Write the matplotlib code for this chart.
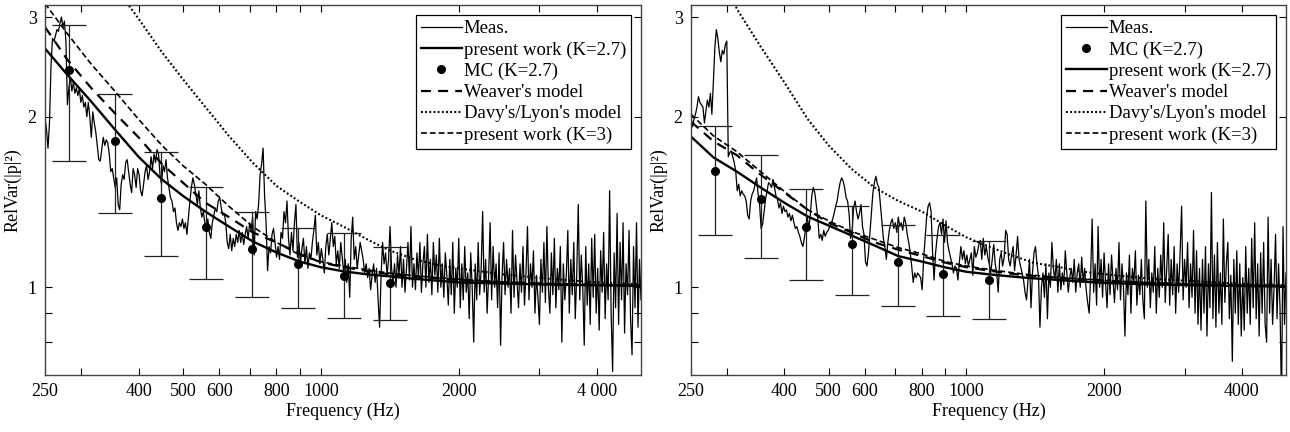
import numpy as np
import matplotlib
matplotlib.use('Agg')
import matplotlib.pyplot as plt
from matplotlib.ticker import FixedLocator, NullLocator

plt.rcParams['font.family'] = ['Liberation Serif', 'DejaVu Serif']

meas_left = [
    2.0, 1.9, 1.76, 1.95, 2.45, 2.75, 2.72, 2.78, 2.85, 2.83,
    2.92, 3.0, 2.88, 2.95, 2.72, 2.1, 2.25, 2.35, 2.22, 2.3,
    2.2, 2.25, 2.18, 2.24, 2.12, 2.18, 2.08, 2.12, 2.0, 2.12,
    2.0, 1.84, 2.04, 1.95, 1.88, 1.78, 1.68, 1.67, 1.75, 1.84,
    1.78, 1.82, 1.8, 1.72, 1.6, 1.62, 1.56, 1.5, 1.56, 1.4,
    1.37, 1.52, 1.58, 1.55, 1.66, 1.68, 1.6, 1.52, 1.47, 1.62,
    1.58, 1.5, 1.62, 1.58, 1.48, 1.45, 1.52, 1.6, 1.64, 1.55,
    1.6, 1.7, 1.62, 1.72, 1.66, 1.75, 1.72, 1.58, 1.52, 1.64,
    1.6, 1.68, 1.56, 1.5, 1.44, 1.42, 1.36, 1.38, 1.3, 1.26,
    1.3, 1.28, 1.32, 1.27, 1.3, 1.24, 1.33, 1.42, 1.5, 1.56,
    1.52, 1.46, 1.4, 1.48, 1.38, 1.33, 1.36, 1.3, 1.26, 1.32,
    1.25, 1.22, 1.3, 1.34, 1.38, 1.36, 1.42, 1.44, 1.38, 1.34,
    1.35, 1.3, 1.2, 1.17, 1.24, 1.16, 1.22, 1.18, 1.24, 1.2,
    1.26, 1.2, 1.25, 1.19, 1.24, 1.28, 1.22, 1.3, 1.26, 1.33,
    1.14, 1.36, 1.32, 1.4, 1.58, 1.65, 1.76, 1.45, 1.3, 1.07,
    1.18, 1.15, 1.24, 1.27, 1.2, 1.13, 1.18, 1.12, 1.25, 1.22,
    1.36, 1.3, 1.42, 1.22, 1.14, 1.25, 1.16, 1.3, 1.4, 1.13,
    1.2, 1.1, 1.17, 1.22, 1.1, 1.18, 1.08, 1.15, 1.12, 1.2,
    1.26, 1.34, 1.14, 1.2, 1.1, 1.17, 1.12, 1.06, 1.18, 1.24,
    1.14, 1.22, 1.3, 1.18, 1.23, 1.1, 1.16, 1.08, 1.2, 1.13,
    1.06, 1.12, 1.02, 1.1, 0.96, 1.22, 1.33, 1.12, 1.18, 1.08,
    1.14, 1.2, 1.16, 1.12, 1.06, 1.1, 1.04, 1.08, 0.99, 1.05,
    1.1, 1.02, 1.08, 0.95, 0.85, 1.05, 1.2, 1.1, 1.15, 1.05,
    1.12, 1.28, 1.08, 1.02, 1.1, 1.0, 1.14, 1.05, 1.18, 1.0,
    1.12, 0.98, 1.08, 1.2, 1.03, 1.28, 1.0, 1.1, 0.99, 1.15,
    1.04, 1.2, 0.98, 1.1, 1.18, 1.0, 1.24, 1.02, 1.12, 0.97,
    1.2, 1.05, 1.14, 0.98, 1.22, 1.0, 1.1, 0.96, 1.15,
    1.05, 0.93, 1.12, 0.97, 1.2, 0.9, 1.08, 1.0, 1.22, 0.92,
    1.1, 0.95, 1.18, 0.98, 1.06, 0.88, 1.15, 1.0, 0.8, 1.1,
    0.95, 1.2, 0.97, 1.08, 1.36, 0.98, 1.12, 0.9, 1.05, 1.3,
    0.95, 1.18, 1.0, 1.1, 0.92, 1.15, 0.79, 1.05, 1.2, 0.97,
    1.12, 1.0, 1.08, 0.9, 1.26, 0.96, 1.14, 1.02, 0.92, 1.1,
    0.98, 1.18, 0.93, 1.06, 1.28, 0.95, 1.1, 1.0, 1.16, 0.9,
    1.05, 0.96, 0.86, 1.12, 0.98, 1.2, 0.94, 1.28, 1.0, 0.9,
    1.15, 0.97, 1.22, 0.92, 1.08, 0.99, 1.18, 0.8, 1.1, 0.95,
    1.05, 1.26, 0.9, 1.12, 0.97, 1.2, 0.88, 1.06, 1.4, 0.95,
    1.14, 1.0, 0.79, 1.18, 0.93, 1.1, 0.86, 1.22, 0.96, 1.24,
    0.9, 1.08, 0.84, 1.16, 0.98, 1.25, 0.88, 1.1, 0.95, 1.48,
    0.9, 0.71, 1.15, 0.92, 1.35, 0.86, 1.2, 0.95, 1.3, 0.83,
    1.1, 0.97, 1.26, 0.88, 0.76, 1.18, 0.92, 1.3, 0.85, 1.12,
    0.95,
]

meas_right = [
    2.0, 1.92, 1.98, 2.02, 2.08, 2.17, 2.12, 2.1, 2.08, 1.95,
    2.05, 2.14, 2.08, 2.2, 2.02, 2.3, 2.65, 2.85, 2.75, 2.6,
    2.5, 2.62, 2.58, 2.68, 2.72, 1.7, 1.73, 1.74, 1.7, 1.66,
    1.6, 1.48, 1.52, 1.45, 1.48, 1.46, 1.45, 1.42, 1.34, 1.32,
    1.42, 1.46, 1.48, 1.52, 1.56, 1.46, 1.4, 1.27, 1.29, 1.36,
    1.43, 1.48, 1.53, 1.52, 1.5, 1.55, 1.5, 1.45, 1.43, 1.38,
    1.41, 1.35, 1.39, 1.36, 1.37, 1.33, 1.35, 1.31, 1.34, 1.3,
    1.27, 1.28, 1.25, 1.23, 1.2, 1.18, 1.22, 1.28, 1.33, 1.27,
    1.34, 1.45, 1.5, 1.47, 1.4, 1.33, 1.22, 1.24, 1.21, 1.26,
    1.23, 1.25, 1.26, 1.28, 1.29, 1.32, 1.35, 1.39, 1.42, 1.48,
    1.53, 1.56, 1.54, 1.5, 1.44, 1.42, 1.35, 1.22, 1.25, 1.38,
    1.42, 1.36, 1.32, 1.35, 1.4, 1.28, 1.24, 1.11, 1.09, 1.15,
    1.25, 1.36, 1.47, 1.53, 1.57, 1.52, 1.5, 1.4, 1.3, 1.22,
    1.18, 1.12, 1.2, 1.26, 1.3, 1.32, 1.27, 1.3, 1.25, 1.33,
    1.28, 1.3, 1.26, 1.33, 1.3, 1.24, 1.2, 1.15, 1.09, 1.02,
    1.06, 1.04, 1.06, 1.05, 1.04, 0.99, 1.12, 1.22, 1.33, 1.39,
    1.41, 1.36, 1.15, 1.03, 1.15, 1.22, 1.28, 1.3, 1.24, 1.32,
    1.2, 1.31, 1.2, 1.16, 1.13, 1.1, 1.06, 1.09, 1.08, 1.03,
    1.11, 1.18, 1.12, 1.16, 1.1, 1.14, 1.09, 1.12, 1.15, 1.05,
    1.18, 1.13, 1.15, 1.19, 1.21, 1.12, 1.22, 1.14, 1.18, 1.13,
    1.1, 1.06, 1.12, 1.19, 1.1, 1.06, 0.98, 1.12, 1.15, 1.09,
    1.13, 1.26, 1.24, 1.12, 1.09, 1.14, 1.18, 1.07, 1.14, 1.23,
    1.12, 1.09, 1.06, 1.03, 0.98, 0.95, 1.03, 1.12, 0.92, 1.06,
    1.15, 1.18, 1.1, 1.05, 0.85, 1.0, 1.06, 0.96, 1.1, 0.88,
    1.06, 1.0, 1.2, 1.08, 1.03, 1.12, 0.98, 1.1, 0.99, 1.06,
    1.01, 1.16, 1.06, 0.98, 1.04, 1.08, 1.02, 1.12, 0.98, 1.06,
    1.1, 1.0, 1.13, 1.02, 1.08, 0.99, 0.94, 0.9, 1.05,
    1.32, 0.98, 1.1, 0.93, 1.28, 1.0, 1.12, 0.96, 1.15, 1.02,
    0.92, 1.1, 0.97, 1.14, 1.03, 0.94, 1.08, 0.99, 1.2, 0.95,
    1.1, 1.0, 0.82, 1.06, 0.97, 1.14, 0.9, 1.08, 1.02, 1.16,
    0.93, 1.05, 0.97, 1.12, 0.95, 0.88, 1.42, 1.0, 1.12, 0.92,
    1.06, 0.98, 1.18, 0.9, 1.08, 0.96, 1.14, 1.0, 1.3, 0.94,
    1.08, 1.24, 0.93, 1.12, 0.97, 1.18, 0.9, 1.1, 0.98, 1.15,
    1.39, 0.95, 1.12, 1.0, 1.2, 0.92, 1.1, 0.96, 1.26, 0.9,
    1.16, 0.86, 1.08, 0.84, 1.12, 0.9, 1.18, 0.82, 1.1, 0.92,
    1.47, 0.88, 1.14, 0.85, 1.2, 0.9, 1.06, 0.86, 1.32, 0.94,
    1.1, 1.2, 0.88, 1.05, 0.74, 1.12, 0.9, 1.16, 0.86, 1.1,
    0.82, 1.04, 0.84, 1.18, 0.9, 1.08, 0.86, 1.22, 0.92, 1.3,
    0.88, 1.1, 0.82, 1.15, 0.9, 1.2, 0.86, 0.8, 1.33, 0.9,
    1.12, 0.86, 1.0, 1.24, 0.88, 1.1, 0.92, 0.62, 1.28, 0.86,
    1.06,
]

# model curves
f_model = [250, 280, 315, 355, 400, 450, 500, 560, 630, 710, 800, 900, 1000,
           1120, 1250, 1400, 1600, 1800, 2000, 2500, 3150, 4000, 5000]

pw27_left = [2.64, 2.37, 2.13, 1.90, 1.70, 1.55, 1.45, 1.36, 1.28, 1.205, 1.152,
             1.11, 1.085, 1.067, 1.055, 1.046, 1.035, 1.027, 1.02, 1.015, 1.011, 1.008, 1.005]
weaver_left = [2.88, 2.52, 2.25, 2.03, 1.84, 1.65, 1.53, 1.41, 1.33, 1.25, 1.2,
               1.145, 1.107, 1.085, 1.07, 1.055, 1.045, 1.037, 1.03, 1.02, 1.014, 1.01, 1.007]
davy_left = [5.5, 4.6, 3.9, 3.4, 2.98, 2.6, 2.33, 2.08, 1.85, 1.66, 1.51,
             1.415, 1.34, 1.28, 1.22, 1.165, 1.12, 1.095, 1.08, 1.054, 1.035, 1.02, 1.012]
pw3_left = [3.17, 2.8, 2.48, 2.22, 1.98, 1.78, 1.64, 1.52, 1.39, 1.28, 1.2,
            1.14, 1.11, 1.09, 1.075, 1.06, 1.048, 1.04, 1.033, 1.022, 1.015, 1.01, 1.007]

pw27_right = [1.845, 1.695, 1.60, 1.50, 1.41, 1.333, 1.285, 1.235, 1.185, 1.135, 1.11,
              1.084, 1.065, 1.054, 1.045, 1.037, 1.03, 1.023, 1.018, 1.012, 1.008, 1.005, 1.003]
weaver_right = [1.96, 1.81, 1.71, 1.58, 1.47, 1.37, 1.30, 1.25, 1.20, 1.165, 1.135,
                1.105, 1.085, 1.07, 1.057, 1.047, 1.038, 1.032, 1.027, 1.018, 1.012, 1.008, 1.005]
davy_right = [5.0, 3.9, 3.1, 2.66, 2.3, 1.98, 1.78, 1.62, 1.5, 1.42, 1.36,
              1.285, 1.225, 1.18, 1.14, 1.105, 1.085, 1.065, 1.055, 1.036, 1.025, 1.014, 1.008]
pw3_right = [2.02, 1.85, 1.735, 1.60, 1.476, 1.37, 1.31, 1.255, 1.215, 1.175, 1.145,
             1.11, 1.09, 1.075, 1.062, 1.05, 1.04, 1.034, 1.028, 1.019, 1.013, 1.009, 1.006]

# MC points with error bars
f_mc_left = [282, 355, 447, 562, 708, 891, 1122, 1413]
mc_left = [2.42, 1.81, 1.44, 1.28, 1.17, 1.10, 1.046, 1.016]
mc_lo_left = [1.67, 1.355, 1.134, 1.033, 0.96, 0.918, 0.882, 0.875]
mc_hi_left = [2.90, 2.196, 1.73, 1.506, 1.36, 1.27, 1.245, 1.176]

f_mc_right = [282, 355, 447, 562, 708, 891, 1122]
mc_right = [1.607, 1.43, 1.275, 1.19, 1.11, 1.054, 1.029]
mc_lo_right = [1.235, 1.125, 1.029, 0.968, 0.926, 0.889, 0.878]
mc_hi_right = [1.93, 1.714, 1.494, 1.389, 1.286, 1.235, 1.205]

xticks = [250, 300, 400, 500, 600, 700, 800, 900, 1000, 2000, 3000, 4000]
xlabels_left = ['250', '', '400', '500', '600', '', '800', '', '1000', '2000', '', '4 000']
xlabels_right = ['250', '', '400', '500', '600', '', '800', '', '1000', '2000', '', '4000']


def panel(ax, meas, pw27, weaver, davy, pw3, fmc, mc, lo, hi, xlabels, mc_first):
    f_meas = np.geomspace(250, 5000, len(meas))
    h_meas, = ax.plot(f_meas, meas, color='black', lw=0.9, label='Meas.')
    h_pw27, = ax.plot(f_model, pw27, color='black', lw=1.7, label='present work (K=2.7)')
    mc = np.array(mc)
    err = [mc - np.array(lo), np.array(hi) - mc]
    ax.errorbar(fmc, mc, yerr=err, fmt='none', ecolor='#222222', elinewidth=0.9,
                capsize=12.5, capthick=0.9)
    h_mc, = ax.plot(fmc, mc, 'o', color='black', ms=5.5, ls='none', label='MC (K=2.7)')
    h_w, = ax.plot(f_model, weaver, color='black', lw=1.6, dashes=(4.5, 3.2),
                   label="Weaver's model")
    h_d, = ax.plot(f_model, davy, color='black', lw=1.5, dashes=(0.9, 1.1),
                   label="Davy's/Lyon's model")
    h_3, = ax.plot(f_model, pw3, color='black', lw=1.2, dashes=(3.5, 1.8),
                   label='present work (K=3)')

    ax.set_xscale('log')
    ax.set_yscale('log')
    ax.set_xlim(250, 5000)
    ax.set_ylim(0.7, 3.15)
    ax.xaxis.set_major_locator(FixedLocator(xticks))
    ax.set_xticklabels(xlabels)
    ax.xaxis.set_minor_locator(NullLocator())
    ax.yaxis.set_major_locator(FixedLocator([0.8, 0.9, 1, 2, 3]))
    ax.set_yticklabels(['', '', '1', '2', '3'])
    ax.yaxis.set_minor_locator(NullLocator())
    ax.tick_params(direction='in', top=True, right=True, length=5, width=0.8,
                   labelsize=13, pad=6)
    for s in ax.spines.values():
        s.set_linewidth(1.0)
        s.set_color('#444444')
    ax.set_xlabel('Frequency (Hz)', fontsize=13, labelpad=2)
    ax.set_ylabel('RelVar(|p|²)', fontsize=13, labelpad=4)

    if mc_first:
        handles = [h_meas, h_mc, h_pw27, h_w, h_d, h_3]
    else:
        handles = [h_meas, h_pw27, h_mc, h_w, h_d, h_3]
    leg = ax.legend(handles=handles, loc='upper right', fontsize=13.5, frameon=True,
                    fancybox=False, framealpha=1, edgecolor='black',
                    borderpad=0.25, labelspacing=0.22, handlelength=2.2,
                    handletextpad=0.1, borderaxespad=0.55)
    leg.get_frame().set_linewidth(0.9)


fig = plt.figure(figsize=(12.9, 4.32), dpi=100)
ax1 = fig.add_axes([45 / 1290, 57 / 432, 596 / 1290, 370 / 432])
ax2 = fig.add_axes([691 / 1290, 57 / 432, 595 / 1290, 370 / 432])

panel(ax1, meas_left, pw27_left, weaver_left, davy_left, pw3_left,
      f_mc_left, mc_left, mc_lo_left, mc_hi_left, xlabels_left, False)
panel(ax2, meas_right, pw27_right, weaver_right, davy_right, pw3_right,
      f_mc_right, mc_right, mc_lo_right, mc_hi_right, xlabels_right, True)

fig.savefig('out.png', dpi=100)
